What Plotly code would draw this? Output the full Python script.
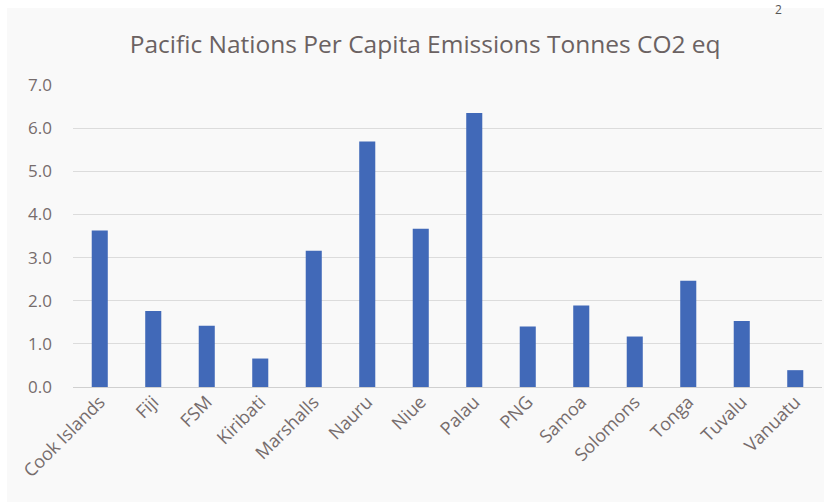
import plotly.graph_objects as go

countries = ["Cook Islands", "Fiji", "FSM", "Kiribati", "Marshalls", "Nauru", "Niue",
             "Palau", "PNG", "Samoa", "Solomons", "Tonga", "Tuvalu", "Vanuatu"]
emissions = [3.63, 1.76, 1.42, 0.66, 3.16, 5.69, 3.67, 6.35, 1.40, 1.89, 1.17, 2.46, 1.53, 0.39]
y_ticks = [0, 1, 2, 3, 4, 5, 6, 7]
y_tick_labels = ["0.0", "1.0", "2.0", "3.0", "4.0", "5.0", "6.0", "7.0"]

title_text = "Pacific Nations Per Capita Emissions Tonnes CO2 eq"
text_color = "#6b6262"
tick_color = "#766c6c"
font_family = "Open Sans, Liberation Sans, sans-serif"

fig = go.Figure(go.Bar(x=countries, y=emissions, marker_color="#4169b8",
                       marker_line_width=0))

fig.update_layout(
    width=824, height=502,
    margin=dict(l=73, r=2, t=85, b=115),
    paper_bgcolor="#f9f9f9", plot_bgcolor="#f9f9f9",
    bargap=0.7,
    showlegend=False,
    title=dict(text=title_text, x=0.516, xanchor="center", y=0.912, yanchor="middle",
               font=dict(family=font_family, size=24.5, color=text_color)),
    font=dict(family=font_family, color=text_color),
)
fig.update_xaxes(tickangle=-45, tickfont=dict(size=18, color=tick_color),
                 showgrid=False, showline=False, ticks="")
fig.update_yaxes(range=[0, 7], tickvals=y_ticks, ticktext=y_tick_labels,
                 tickfont=dict(size=17, color=tick_color),
                 gridcolor="#dcdcdc", gridwidth=1, zeroline=True,
                 zerolinecolor="#d0d0d0", zerolinewidth=1,
                 showline=False, ticks="", ticklabelstandoff=20)

# white frame strips of the scanned page
fig.add_shape(type="rect", xref="paper", yref="paper", x0=-0.2, x1=1.1,
              y0=(387 - 8) / 302, y1=1.4, fillcolor="white", line_width=0, layer="below")
fig.add_shape(type="rect", xref="paper", yref="paper", x0=-0.2, x1=(7 - 73) / 749,
              y0=-0.5, y1=1.4, fillcolor="white", line_width=0, layer="below")

fig.add_annotation(text="2", xref="paper", yref="paper", x=(778 - 73) / 749,
                   y=(387 - 9) / 302, xanchor="center", yanchor="middle", showarrow=False,
                   font=dict(size=12, color="#555555", family=font_family))

fig.write_html("out.html")
